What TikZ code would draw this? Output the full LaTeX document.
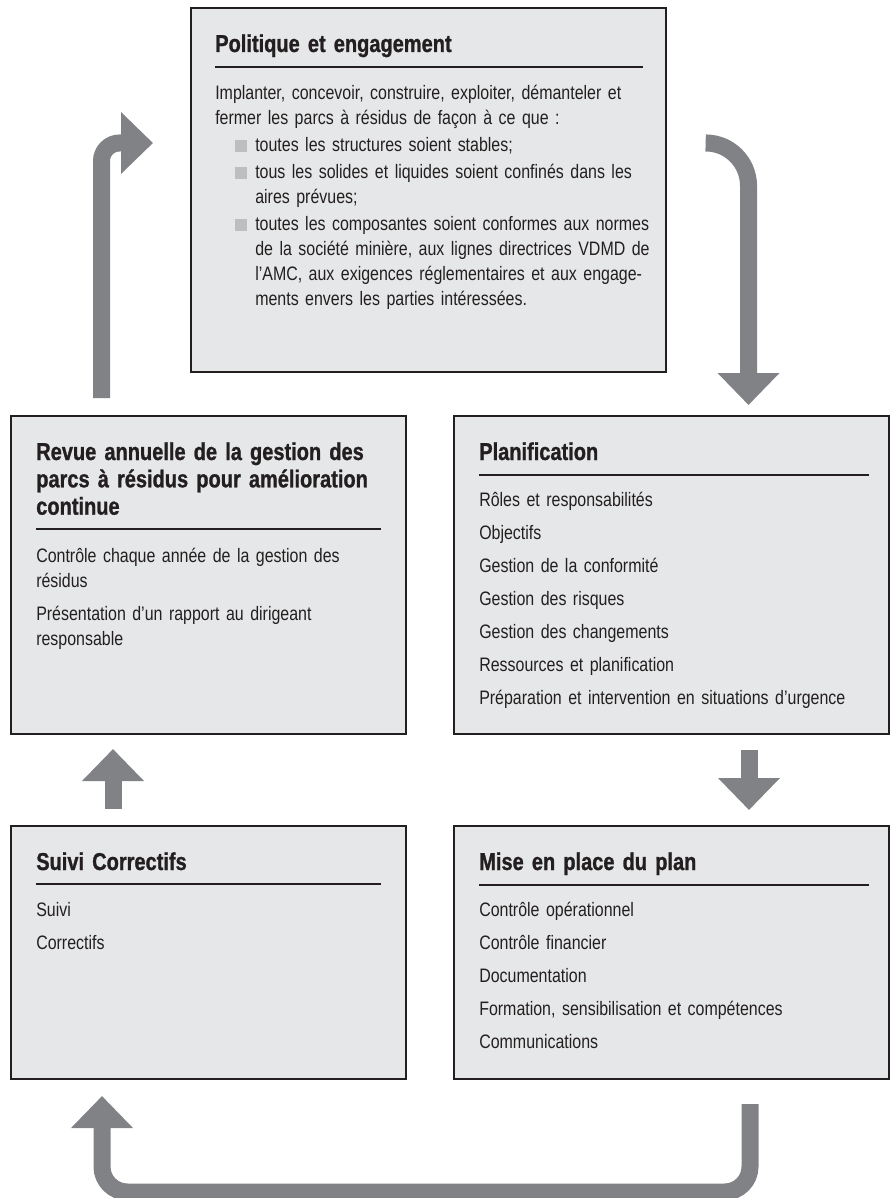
\documentclass[tikz,border=0pt]{standalone}
\usepackage{fontspec}
\setmainfont{Liberation Sans}[FakeStretch=0.82, WordSpace=0.9, BoldFeatures={FakeBold=1}]
\usetikzlibrary{arrows.meta,calc}

\definecolor{cadre}{HTML}{231F20}
\definecolor{fond}{HTML}{E6E7E8}
\definecolor{fleche}{HTML}{808285}
\definecolor{puce}{HTML}{BCBEC0}

\newcommand{\puce}{\leftskip=15pt\hangindent=15pt\hangafter=1\noindent\makebox[15pt][l]{\textcolor{puce}{\rule{9pt}{9pt}}}}

\tikzset{
	boite/.style = { draw = cadre, line width = 1.5pt, fill = fond, inner sep = 0pt, anchor = north west },
	titre/.style = { anchor = base west, inner sep = 0pt, text width = 340pt, align = left, text = cadre,
		font = \bfseries\fontsize{18.3}{20.5}\selectfont },
	texte/.style = { anchor = base west, inner sep = 0pt, text width = 340pt, align = left, text = cadre,
		font = \fontsize{14.6}{18.75}\selectfont, execute at begin node = \setlength{\parskip}{#1} },
	texte/.default = 6pt,
	filet/.style = { draw = cadre, line width = 1.6pt },
	flux/.style = { draw = fleche, line width = 12.75pt, -{Triangle[width=45pt,length=24pt]} }
}

\begin{document}
\begin{tikzpicture}[x=0.75pt,y=-0.75pt]
		\useasboundingbox ( 0, 0 ) rectangle ( 889, 1198 );

		% блоки
		\node [ boite, minimum width = 356.25pt, minimum height = 273pt ] (pol) at ( 190, 7 ) {};
		\node [ boite, minimum width = 296.25pt, minimum height = 238.5pt ] (revue) at ( 10, 415 ) {};
		\node [ boite, minimum width = 326.25pt, minimum height = 238.5pt ] (plan) at ( 453, 415 ) {};
		\node [ boite, minimum width = 296.25pt, minimum height = 189.75pt ] (suivi) at ( 10, 825 ) {};
		\node [ boite, minimum width = 326.25pt, minimum height = 189.75pt ] (mise) at ( 453, 825 ) {};

		% политика
		\node [ titre ] (pol-t) at ( $(pol.north west) + ( 25, 45 )$ ) {Politique et engagement};
		\draw [ filet ] ( $(pol.north west) + ( 25, 60 )$ ) -- ( $(pol.north east) + ( -24, 60 )$ );
		\node [ texte = 1.5pt ] (pol-x) at ( $(pol.north west) + ( 25, 93 )$ ) {Implanter, concevoir, construire, exploiter, démanteler et\newline
			fermer les parcs à résidus de façon à ce que :\par
			\puce toutes les structures soient stables;\par
			\puce tous les solides et liquides soient confinés dans les\newline aires prévues;\par
			\puce toutes les composantes soient conformes aux normes\newline de la société minière, aux lignes directrices VDMD de\newline
			l’AMC, aux exigences réglementaires et aux engage-\newline ments envers les parties intéressées.\par};

		% обзор
		\node [ titre ] (revue-t) at ( $(revue.north west) + ( 26, 45 )$ ) {Revue annuelle de la gestion des\\ parcs à résidus pour amélioration\\ continue};
		\draw [ filet ] ( $(revue.north west) + ( 26, 114 )$ ) -- ( $(revue.north east) + ( -26, 114 )$ );
		\node [ texte ] (revue-x) at ( $(revue.north west) + ( 26, 147 )$ ) {Contrôle chaque année de la gestion des\newline résidus\par
			Présentation d’un rapport au dirigeant\newline responsable};

		% планирование
		\node [ titre ] (plan-t) at ( $(plan.north west) + ( 26, 45 )$ ) {Planification};
		\draw [ filet ] ( $(plan.north west) + ( 26, 60 )$ ) -- ( $(plan.north east) + ( -21, 60 )$ );
		\node [ texte ] (plan-x) at ( $(plan.north west) + ( 26, 91 )$ ) {Rôles et responsabilités\par
			Objectifs\par
			Gestion de la conformité\par
			Gestion des risques\par
			Gestion des changements\par
			Ressources et planification\par
			Préparation et intervention en situations d’urgence};

		% контроль
		\node [ titre ] (suivi-t) at ( $(suivi.north west) + ( 26, 45 )$ ) {Suivi Correctifs};
		\draw [ filet ] ( $(suivi.north west) + ( 26, 59 )$ ) -- ( $(suivi.north east) + ( -26, 59 )$ );
		\node [ texte ] (suivi-x) at ( $(suivi.north west) + ( 26, 91 )$ ) {Suivi\par
			Correctifs};

		% внедрение
		\node [ titre ] (mise-t) at ( $(mise.north west) + ( 26, 45 )$ ) {Mise en place du plan};
		\draw [ filet ] ( $(mise.north west) + ( 26, 60 )$ ) -- ( $(mise.north east) + ( -21, 60 )$ );
		\node [ texte ] (mise-x) at ( $(mise.north west) + ( 26, 91 )$ ) {Contrôle opérationnel\par
			Contrôle financier\par
			Documentation\par
			Formation, sensibilisation et compétences\par
			Communications};

		% стрелки
		\draw [ flux, rounded corners = 13.5pt ] ( $(revue.north west) + ( 91.5, -17 )$ ) |- ( $(pol.north west) + ( -37, 136 )$ );
		\draw [ flux, rounded corners = 32pt ] ( $(pol.north east) + ( 40, 136 )$ ) -| ( $(plan.north west) + ( 295.5, -10 )$ );
		\draw [ flux ] ( $(plan.south west) + ( 296, 15 )$ ) -- ( $(mise.north west) + ( 296, -15 )$ );
		\draw [ flux ] ( $(suivi.north west) + ( 103, -16 )$ ) -- ( $(revue.south west) + ( 103, 14 )$ );
		\draw [ flux, rounded corners = 19pt ] ( $(mise.south west) + ( 297, 24 )$ ) |- ( $(suivi.south west) + ( 92, 112 )$ ) -- ( $(suivi.south west) + ( 92, 16 )$ );
	\end{tikzpicture}
\end{document}
